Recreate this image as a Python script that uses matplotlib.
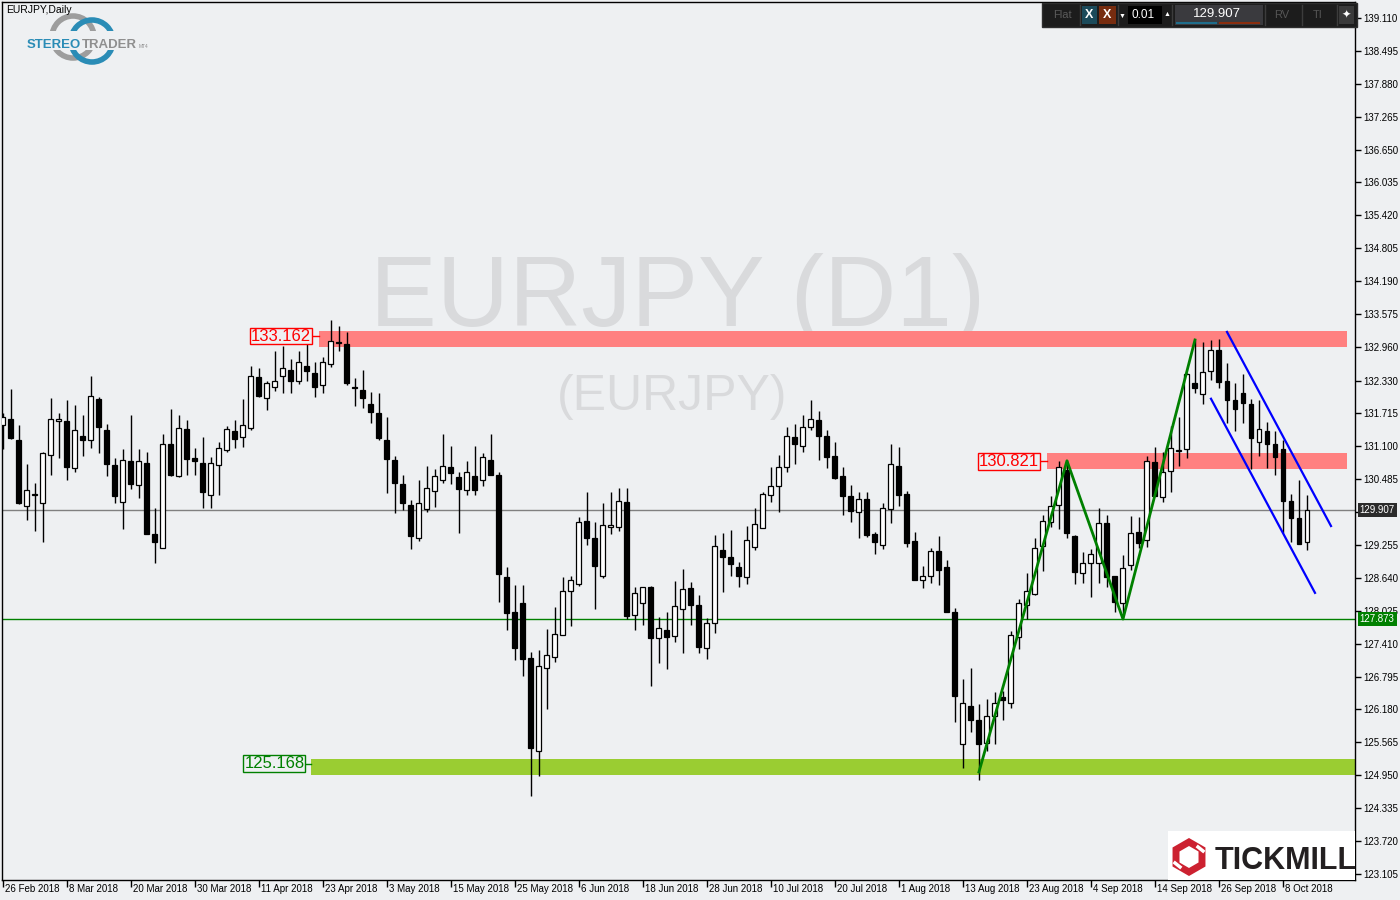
import matplotlib
matplotlib.use("Agg")
import matplotlib.pyplot as plt
from matplotlib.patches import Rectangle, RegularPolygon, Circle
from matplotlib.transforms import ScaledTranslation
import numpy as np

plt.rcParams['font.family'] = ['Liberation Sans', 'DejaVu Sans']

# ---- daily candles, EURJPY, 26 Feb 2018 .. 12 Oct 2018 ----
opens = [131.50, 131.61, 131.22, 129.98, 130.19, 130.04, 130.94, 131.57, 131.57, 130.69,
         131.29, 131.22, 131.98, 131.40, 130.75, 130.06, 130.82, 130.37, 130.79, 129.46,
         129.20, 131.14, 130.54, 131.42, 130.88, 130.79, 130.19, 130.75, 131.03, 131.39,
         131.27, 131.44, 132.39, 132.00, 132.21, 132.41, 132.52, 132.32, 132.61, 132.48,
         132.25, 132.64, 133.05, 133.01, 132.21, 132.15, 131.89, 131.72, 131.22, 130.84,
         130.40, 130.00, 129.38, 129.93, 130.26, 130.47, 130.71, 130.52, 130.28, 130.54,
         130.47, 130.84, 130.56, 128.66, 128.00, 128.17, 127.14, 125.40, 126.96, 127.16,
         127.57, 128.40, 128.53, 129.71, 129.38, 128.67, 129.60, 129.59, 130.06, 127.95,
         128.17, 128.47, 127.52, 127.66, 127.55, 128.06, 128.45, 128.14, 127.33, 127.80,
         129.16, 129.03, 128.84, 128.66, 129.22, 129.57, 130.19, 130.36, 130.71, 131.27,
         131.11, 131.46, 131.59, 131.29, 130.92, 130.54, 130.17, 129.87, 130.11, 129.46,
         129.25, 129.93, 130.73, 130.21, 129.33, 128.60, 128.67, 129.14, 128.84, 128.00,
         125.53, 126.24, 125.98, 125.55, 126.06, 126.41, 126.30, 127.53, 128.13, 128.34,
         129.24, 129.68, 130.00, 130.66, 129.42, 128.73, 128.92, 128.92, 129.67, 128.67,
         128.17, 128.88, 129.50, 129.35, 130.81, 130.15, 130.64, 131.01, 131.05, 132.28,
         132.08, 132.51, 132.90, 132.32, 131.97, 132.10, 131.89, 131.18, 131.39, 131.14,
         131.05, 130.08, 129.76, 129.31]
highs = [131.72, 132.17, 131.50, 130.77, 130.42, 130.99, 132.00, 131.72, 131.97, 131.87,
         131.69, 132.41, 132.02, 131.51, 130.88, 131.05, 131.69, 131.05, 130.99, 129.95,
         131.34, 131.80, 131.69, 131.59, 131.07, 131.27, 130.90, 131.18, 131.48, 131.59,
         131.98, 132.60, 132.57, 132.32, 132.88, 132.97, 132.73, 132.88, 133.05, 132.67,
         132.77, 133.46, 133.35, 133.24, 132.38, 132.53, 132.12, 132.10, 131.65, 130.92,
         130.56, 130.10, 130.47, 130.73, 130.67, 131.34, 131.11, 130.62, 130.82, 131.11,
         130.97, 131.33, 130.62, 128.84, 128.51, 128.51, 127.25, 127.29, 127.68, 128.09,
         128.66, 128.67, 129.78, 130.24, 129.69, 130.04, 130.24, 130.32, 130.32, 128.47,
         128.47, 128.49, 127.91, 128.00, 128.58, 128.81, 128.56, 128.32, 127.89, 129.44,
         129.48, 129.53, 128.94, 129.61, 129.95, 130.24, 130.71, 130.94, 131.46, 131.51,
         131.69, 131.97, 131.76, 131.40, 131.18, 130.71, 130.37, 130.24, 130.24, 129.50,
         130.04, 131.14, 131.09, 130.26, 129.50, 128.86, 129.20, 129.42, 128.97, 128.08,
         126.75, 126.95, 126.28, 126.38, 126.51, 126.52, 127.65, 128.25, 128.73, 129.38,
         129.82, 130.17, 130.82, 130.84, 129.44, 129.12, 129.18, 129.95, 129.82, 128.67,
         129.07, 129.80, 129.78, 130.92, 131.09, 130.99, 131.48, 131.65, 132.47, 133.09,
         133.05, 133.09, 133.11, 132.65, 132.28, 132.45, 131.98, 131.97, 131.55, 131.39,
         131.22, 130.21, 130.47, 130.19]
lows = [131.05, 131.24, 130.02, 129.72, 129.52, 129.31, 130.56, 130.88, 130.47, 130.62,
        130.92, 131.07, 130.97, 130.55, 130.04, 129.56, 130.30, 130.13, 129.46, 128.92,
        129.20, 130.54, 130.52, 130.56, 130.56, 129.95, 129.95, 130.19, 130.99, 131.07,
        131.09, 131.40, 132.02, 131.78, 132.14, 132.10, 132.10, 132.27, 132.32, 132.02,
        132.10, 132.58, 132.88, 132.25, 131.85, 131.82, 131.54, 131.22, 130.23, 129.86,
        129.91, 129.18, 129.33, 129.87, 129.97, 130.42, 130.40, 129.48, 130.19, 130.19,
        130.36, 130.56, 128.19, 127.67, 127.11, 126.81, 124.56, 124.93, 126.18, 127.07,
        127.57, 127.74, 128.49, 129.25, 128.06, 128.64, 129.46, 129.52, 127.87, 127.67,
        127.76, 126.62, 127.05, 126.94, 127.44, 127.24, 127.76, 127.24, 127.12, 127.61,
        128.38, 128.67, 128.47, 128.52, 129.16, 129.57, 130.06, 129.87, 130.62, 130.77,
        130.99, 131.40, 130.84, 130.69, 130.49, 129.82, 129.69, 129.38, 129.40, 129.08,
        129.18, 129.67, 129.98, 129.22, 128.60, 128.45, 128.54, 128.51, 128.00, 125.95,
        125.09, 125.76, 124.86, 125.40, 125.53, 125.98, 126.21, 127.31, 127.87, 128.32,
        128.76, 129.59, 129.55, 129.38, 128.53, 128.54, 128.28, 128.54, 128.47, 128.00,
        127.89, 128.79, 129.20, 129.22, 130.17, 130.06, 130.25, 130.73, 130.88, 132.10,
        131.89, 132.34, 132.19, 131.54, 131.39, 131.54, 130.68, 130.92, 130.69, 130.56,
        129.48, 129.31, 129.27, 129.16]
closes = [131.65, 131.26, 130.04, 130.28, 130.20, 130.97, 131.61, 131.61, 130.71, 131.40,
          131.22, 132.04, 131.46, 130.77, 130.17, 130.84, 130.39, 130.82, 129.46, 129.31,
          131.15, 130.57, 131.44, 130.86, 130.82, 130.24, 130.79, 131.07, 131.42, 131.24,
          131.50, 132.41, 132.05, 132.28, 132.32, 132.57, 132.32, 132.67, 132.50, 132.21,
          132.67, 133.07, 133.03, 132.28, 132.20, 132.00, 131.74, 131.26, 130.86, 130.42,
          130.04, 129.42, 130.04, 130.32, 130.54, 130.73, 130.60, 130.30, 130.62, 130.28,
          130.90, 130.57, 128.71, 127.98, 127.33, 127.12, 125.46, 126.99, 127.20, 127.59,
          128.40, 128.60, 129.69, 129.38, 128.86, 129.63, 129.63, 130.08, 127.92, 128.36,
          128.47, 127.52, 127.70, 127.53, 128.11, 128.43, 128.14, 127.35, 127.80, 129.24,
          129.03, 128.90, 128.67, 129.35, 129.65, 130.21, 130.36, 130.71, 131.29, 131.14,
          131.46, 131.61, 131.29, 130.90, 130.51, 130.17, 129.89, 130.11, 129.44, 129.31,
          129.95, 130.77, 130.19, 129.29, 128.60, 128.67, 129.14, 128.79, 128.00, 126.43,
          126.30, 125.98, 125.53, 126.06, 126.30, 126.36, 127.57, 128.17, 128.39, 129.20,
          129.70, 129.98, 130.71, 129.48, 128.75, 128.92, 129.09, 129.67, 128.66, 128.19,
          128.82, 129.48, 129.29, 130.82, 130.17, 130.62, 131.07, 131.03, 132.45, 132.19,
          132.49, 132.90, 132.30, 131.97, 131.80, 131.91, 131.26, 131.42, 131.14, 130.90,
          130.08, 129.76, 129.27, 129.907]

date_labels = ['26 Feb 2018', '8 Mar 2018', '20 Mar 2018', '30 Mar 2018', '11 Apr 2018',
               '23 Apr 2018', '3 May 2018', '15 May 2018', '25 May 2018', '6 Jun 2018',
               '18 Jun 2018', '28 Jun 2018', '10 Jul 2018', '20 Jul 2018', '1 Aug 2018',
               '13 Aug 2018', '23 Aug 2018', '4 Sep 2018', '14 Sep 2018', '26 Sep 2018',
               '8 Oct 2018']
date_idx = list(range(0, 161, 8))

price_ticks = [139.110, 138.495, 137.880, 137.265, 136.650, 136.035, 135.420, 134.805,
               134.190, 133.575, 132.960, 132.330, 131.715, 131.100, 130.485, 129.870,
               129.255, 128.640, 128.025, 127.410, 126.795, 126.180, 125.565, 124.950,
               124.335, 123.720, 123.105]

current_price = 129.907
green_level = 127.873

# zones: (first bar, last bar, low, high, label, label value)
zone_res1 = (40, 168, 132.96, 133.26, '133.162', 133.162)
zone_res2 = (131, 168, 130.68, 130.98, '130.821', 130.821)
zone_sup = (39, 169.5, 124.95, 125.25, '125.168', 125.168)

zigzag_x = [122, 133, 140, 149]
zigzag_y = [125.01, 130.83, 127.87, 133.09]
chan_up_x = [153, 166]
chan_up_y = [133.24, 129.61]
chan_lo_x = [151, 164]
chan_lo_y = [131.99, 128.36]

BG = '#eef0f2'
W, H = 1400, 900

fig = plt.figure(figsize=(14, 9), dpi=100, facecolor=BG)


def px_rect(x0, y0, x1, y1):
    return [x0 / W, 1 - y1 / H, (x1 - x0) / W, (y1 - y0) / H]


back = fig.add_axes([0, 0, 1, 1], zorder=0)
back.set_xlim(0, W)
back.set_ylim(H, 0)
back.axis('off')

ax = fig.add_axes(px_rect(2, 2, 1355, 880), zorder=1)
ax.patch.set_alpha(0)

front = fig.add_axes([0, 0, 1, 1], zorder=2)
front.set_xlim(0, W)
front.set_ylim(H, 0)
front.axis('off')

# watermark
back.text(678, 326, 'EURJPY (D1)', fontsize=72, color='#d9dadc', ha='center', va='baseline')
back.text(672, 410, '(EURJPY)', fontsize=36, color='#d9dadc', ha='center', va='baseline')

# candles
o = np.array(opens)
h = np.array(highs)
l = np.array(lows)
c = np.array(closes)
idx = np.arange(len(o))
up = c >= o
ax.vlines(idx, l, h, color='black', lw=1, zorder=3)
ax.bar(idx, np.maximum(np.abs(c - o), 0.012), bottom=np.minimum(o, c), width=0.62,
       color=np.where(up, 'white', 'black'), edgecolor='black', linewidth=0.9, zorder=4)

# zones + labels
for (x0, x1, lo, hi, txt, val), fc, ec, gap in [
        (zone_res1, '#ff8080', '#ff0000', 1.25),
        (zone_res2, '#ff8080', '#ff0000', 1.25),
        (zone_sup, '#9acd32', '#008000', 1.1)]:
    ax.add_patch(Rectangle((x0 - 0.5, lo), x1 - x0 + 0.5, hi - lo, fc=fc, ec='none', zorder=2))
    ax.plot([x0 - gap, x0 - 0.5], [val, val], color=ec, lw=1, zorder=2)
    ax.text(x0 - gap - 0.2, val, txt, ha='right', va='center', fontsize=12, color=ec, zorder=6,
            bbox=dict(boxstyle='square,pad=0.05', fc=BG, ec=ec, lw=1))

ax.axhline(current_price, color='#808080', lw=1, zorder=1)
ax.axhline(green_level, color='#008000', lw=1, zorder=1)

ax.plot(zigzag_x, zigzag_y, color='#008000', lw=2, zorder=5)
ax.plot(chan_up_x, chan_up_y, color='#0000ff', lw=1.6, zorder=5)
ax.plot(chan_lo_x, chan_lo_y, color='#0000ff', lw=1.6, zorder=5)

ax.set_xlim(-0.1, 169.0)
ax.set_ylim(122.99, 139.41)
ax.yaxis.tick_right()
ax.set_yticks(price_ticks)
# the 129.870 label sits under the current-price box, as in the terminal
ax.set_yticklabels(['' if v == 129.870 else f'{v:.3f}' for v in price_ticks], fontsize=7)
ax.tick_params(axis='y', direction='out', length=4, width=1, pad=2)
ax.set_xticks(date_idx)
ax.set_xticklabels(date_labels, fontsize=7, ha='left')
ax.tick_params(axis='x', direction='out', length=5, width=1, pad=-2)
shift = ScaledTranslation(2 / 100, 0, fig.dpi_scale_trans)
for lbl in ax.get_xticklabels():
    lbl.set_transform(lbl.get_transform() + shift)
for s in ax.spines.values():
    s.set_color('black')
    s.set_linewidth(1)

# price boxes on the right axis
ytr = ax.get_yaxis_transform()
ax.text(1.0035, current_price, f'{current_price:.3f}', transform=ytr, ha='left', va='center',
        fontsize=7, color='white', clip_on=False, zorder=10,
        bbox=dict(boxstyle='square,pad=0.2', fc='#2b2b2b', ec='none'))
ax.text(1.0035, green_level, f'{green_level:.3f}', transform=ytr, ha='left', va='center',
        fontsize=7, color='white', clip_on=False, zorder=10,
        bbox=dict(boxstyle='square,pad=0.2', fc='#008000', ec='none'))

# title + StereoTrader logo
front.text(6, 10, 'EURJPY,Daily', fontsize=7.5, color='black', va='center')
front.add_patch(Circle((73, 37), 21, fc='none', ec='#9d9d9d', lw=4))
front.add_patch(Circle((92, 41), 21, fc='none', ec='#2a8cb6', lw=4))
front.add_patch(Rectangle((24, 31), 122, 19, fc=BG, ec='none'))
front.text(27, 48, 'STEREO', fontsize=9.5, fontweight='bold', color='#2a8cb6', va='baseline')
front.text(81.5, 48, 'TRADER', fontsize=9.5, fontweight='bold', color='#8f8f8f', va='baseline')
front.text(139, 48, 'MT4', fontsize=3.5, color='#8f8f8f', va='baseline')

# trading toolbar
front.add_patch(Rectangle((1042, 3), 315, 24, fc='#1c1c1c', ec='#2e2e2e', lw=1))
for sx in [1080, 1118, 1172, 1265, 1302, 1337]:
    front.plot([sx, sx], [5, 25], color='#3c3c3c', lw=1)
front.text(1062, 15, 'Flat', color='#5a5a5a', fontsize=8, ha='center', va='center')
front.add_patch(Rectangle((1082, 6), 15, 18, fc='#1b4a5a'))
front.text(1089.5, 15, 'X', color='white', fontsize=9, fontweight='bold', ha='center', va='center')
front.add_patch(Rectangle((1099, 6), 17, 18, fc='#772c0f'))
front.text(1107.5, 15, 'X', color='white', fontsize=9, fontweight='bold', ha='center', va='center')
front.text(1122, 16, '▼', color='white', fontsize=5, ha='center', va='center')
front.add_patch(Rectangle((1128, 6), 34, 18, fc='black'))
front.text(1143, 15, '0.01', color='white', fontsize=8.5, ha='center', va='center')
front.text(1167, 15, '▲', color='white', fontsize=5, ha='center', va='center')
front.add_patch(Rectangle((1175, 5), 88, 20, fc='#3a3a3e'))
front.text(1217, 14, '129.907', color='white', fontsize=9.5, ha='center', va='center')
front.plot([1177, 1216], [23, 23], color='#1f6e8c', lw=1.5)
front.plot([1220, 1259], [23, 23], color='#8b2e0e', lw=1.5)
front.text(1282, 15, 'RV', color='#555555', fontsize=8, ha='center', va='center')
front.text(1318, 15, 'TI', color='#555555', fontsize=8, ha='center', va='center')
front.add_patch(Rectangle((1339, 6), 15, 18, fc='#3a3a3a'))
front.text(1346.5, 15, '✦', color='white', fontsize=8, ha='center', va='center')

# Tickmill logo
front.add_patch(Rectangle((1168, 831), 187, 49, fc='white', ec='none'))
front.add_patch(RegularPolygon((1189, 857), 6, radius=15, fc='none', ec='#cc2130', lw=5))
front.plot([1198, 1203], [847, 851], color='white', lw=2.5)
front.plot([1175, 1180], [863, 867], color='white', lw=2.5)
front.text(1215, 869, 'TICKMILL', fontsize=22, fontweight='bold', color='#231f20', va='baseline')

fig.savefig('out.png', dpi=100, facecolor=BG)
